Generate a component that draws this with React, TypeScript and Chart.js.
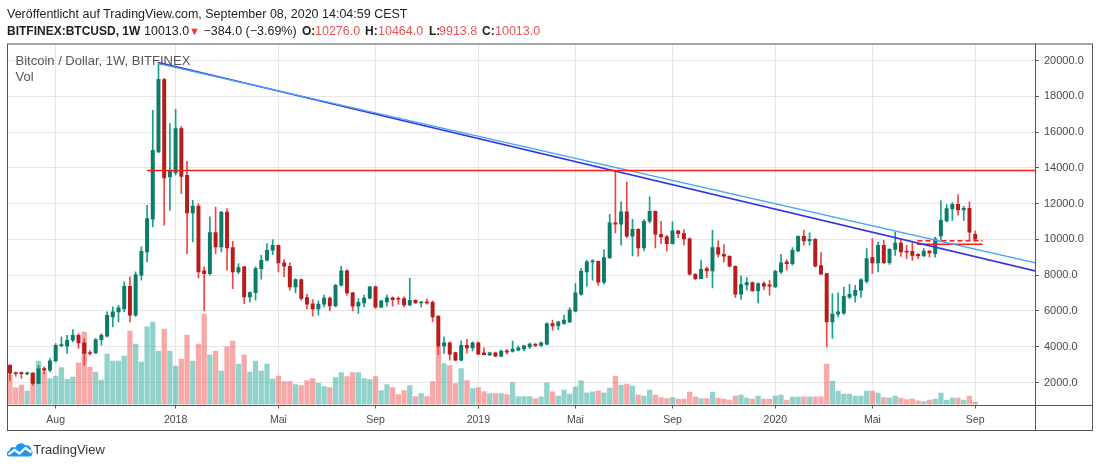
import React, { useEffect, useRef } from 'react';
import { Chart, registerables } from 'chart.js';

Chart.register(...registerables);

// Weekly BITFINEX:BTCUSD candles, bar 0 = week of 12 Jun 2017, bar 169 = week of 7 Sep 2020
const opens = [
  2960, 2530, 2550, 2480, 2530, 1950, 2780, 2690, 3210, 4060,
  4028, 4363, 4643, 4214, 3655, 3655, 4401, 4587, 5667, 5946,
  6114, 7380, 5760, 7995, 9298, 11124, 14885, 18927, 13489, 13712,
  16189, 13582, 11477, 11868, 8237, 8090, 10380, 9578, 11533, 9541,
  8181, 8460, 6784, 7027, 8367, 8833, 9393, 9673, 8686, 8500,
  7345, 7755, 6740, 6400, 6116, 6377, 6712, 6284, 7438, 8239,
  7010, 6265, 6451, 6712, 7345, 6209, 6507, 6730, 6693, 6693,
  6340, 6600, 6451, 6488, 6488, 5707, 4045, 4212, 3676, 3246,
  4084, 3935, 4212, 3660, 3547, 3658, 3472, 3770, 3733, 3807,
  3881, 3994, 4143, 4068, 4143, 5297, 5166, 5300, 5390, 5986,
  6917, 8183, 8742, 8779, 7606, 8984, 10920, 10846, 11535, 10175,
  10566, 9523, 11013, 11572, 10287, 10138, 9766, 10473, 10324, 10026,
  8053, 7810, 8369, 8239, 9542, 9170, 9058, 8499, 6935, 7457,
  7587, 7121, 7531, 7457, 7345, 8183, 8742, 8648, 9356, 10175,
  9933, 10008, 8537, 8090, 5390, 5818, 5880, 6775, 6869, 7148,
  7652, 8977, 8679, 9667, 8700, 9443, 9798, 9340, 9331, 9163,
  9070, 9350, 9200, 10200, 11030, 11700, 11962, 11650, 11740, 10276,
];
const highs = [
  3000, 2600, 2600, 2580, 2560, 2960, 2870, 3340, 4177, 4550,
  4643, 4959, 4736, 4456, 3780, 4456, 4736, 5946, 6225, 6319,
  7622, 7901, 8181, 9578, 11906, 17214, 19890, 19000, 16469, 17269,
  16320, 14364, 12185, 12000, 8460, 11254, 11812, 11570, 11719, 9894,
  8647, 8498, 7066, 8460, 9114, 9766, 9989, 9700, 8872, 8686,
  7792, 7780, 6935, 6638, 6563, 6880, 6786, 7494, 8500, 8313,
  7047, 6693, 6880, 7382, 7400, 6600, 6880, 6786, 6786, 6786,
  7829, 6637, 6525, 6675, 6563, 5720, 4548, 4273, 3700, 4324,
  4415, 4273, 4273, 3935, 3700, 3700, 3807, 3845, 4310, 4031,
  4087, 4217, 4180, 4273, 5340, 5483, 5400, 5762, 6190, 7531,
  8369, 8835, 8872, 8800, 9430, 11404, 13850, 12093, 13210, 11125,
  10600, 11106, 12372, 11600, 11013, 10231, 10976, 10510, 10548, 10082,
  8090, 8835, 8462, 10510, 9915, 9710, 9100, 8520, 7959, 7866,
  7624, 7568, 7624, 7717, 8276, 9170, 8872, 9542, 10200, 10510,
  10361, 10045, 9263, 8100, 6973, 7010, 7335, 7484, 7428, 7802,
  9481, 10041, 9854, 9947, 9480, 10414, 9985, 9667, 9854, 9200,
  9481, 9387, 10135, 12149, 11944, 12056, 12500, 11851, 12093, 10464,
];
const lows = [
  2100, 2360, 2225, 2420, 1830, 1930, 2500, 2590, 3150, 3990,
  3620, 4270, 3898, 2966, 3525, 3620, 4084, 4549, 5108, 5387,
  5946, 5387, 5700, 7716, 8740, 10695, 14850, 10800, 11626, 13600,
  12559, 9207, 9857, 7846, 6002, 8000, 9207, 9300, 8274, 7250,
  8090, 6412, 6505, 6598, 7773, 8797, 9150, 8183, 7903, 7159,
  7010, 6600, 6116, 5707, 5763, 6230, 6005, 6230, 7382, 6880,
  6005, 5856, 6228, 6675, 6135, 6190, 6265, 6265, 6358, 6230,
  6284, 6414, 6228, 6377, 5390, 3550, 3620, 3246, 3212, 3212,
  3658, 3770, 3547, 3547, 3500, 3440, 3435, 3584, 3700, 3770,
  3770, 3900, 4000, 4000, 4100, 4924, 4950, 5250, 5350, 5948,
  6880, 7382, 7717, 7438, 7494, 8928, 10361, 9672, 10082, 9077,
  9058, 9356, 10920, 9523, 9766, 9356, 9728, 10101, 9672, 7997,
  7755, 7800, 7866, 7289, 9021, 8742, 8462, 6749, 6638, 7159,
  7100, 6451, 7196, 6880, 7308, 8090, 8276, 8555, 9300, 9672,
  9672, 8462, 8040, 3993, 4459, 5669, 5800, 6682, 6495, 6775,
  7559, 8081, 8175, 8641, 8600, 9107, 9051, 8921, 8828, 8921,
  9051, 9000, 9000, 9950, 10974, 11067, 11347, 11067, 9950, 9913.8,
];
const closes = [
  2520, 2490, 2500, 2530, 1950, 2770, 2690, 3210, 4084, 4090,
  4363, 4643, 4214, 3620, 3620, 4401, 4643, 5760, 5946, 6170,
  7380, 5760, 8032, 9336, 11161, 14979, 18946, 13433, 13824, 16189,
  13526, 11477, 11868, 8181, 8090, 10380, 9578, 11533, 9522, 8181,
  8423, 6784, 7027, 8367, 8833, 9393, 9673, 8686, 8500, 7345,
  7755, 6693, 6377, 6116, 6377, 6712, 6284, 7438, 8239, 7010,
  6265, 6488, 6712, 7345, 6209, 6563, 6730, 6637, 6656, 6340,
  6600, 6451, 6488, 6451, 5669, 4028, 4212, 3581, 3246, 4084,
  3935, 4212, 3581, 3560, 3658, 3472, 3760, 3700, 3863, 3937,
  4050, 4143, 4068, 4217, 5297, 5166, 5390, 5483, 6042, 7010,
  8220, 8742, 8779, 7606, 8984, 10920, 10846, 11535, 10175, 10566,
  9523, 11013, 11572, 10287, 10138, 9766, 10473, 10324, 10026, 8053,
  7810, 8332, 8239, 9542, 9170, 9058, 8499, 6935, 7475, 7587,
  7121, 7531, 7382, 7382, 8220, 8686, 8648, 9393, 10175, 9915,
  10008, 8499, 8053, 5390, 5818, 5948, 6812, 6925, 7148, 7745,
  8921, 8679, 9667, 8700, 9443, 9798, 9294, 9290, 9107, 9070,
  9350, 9238, 10030, 11069, 11720, 11962, 11650, 11740, 10397, 10013,
];
// relative weekly volume
const volumes = [
  29.3, 16.7, 19.3, 13.3, 31, 43.3, 32.7, 26, 28.3, 37,
  25.3, 27.3, 41.7, 72.3, 37.3, 32.3, 24.3, 50.3, 43.3, 43.3,
  48.3, 73.3, 60.3, 42.3, 77.7, 82.3, 53.3, 75.3, 53.3, 38.3,
  45.3, 69.3, 43.3, 60.3, 90.3, 49.3, 53.3, 33.3, 57.7, 63.3,
  40.3, 49.3, 32.3, 43.3, 33.3, 40.3, 25.3, 28.3, 23, 23,
  20, 19, 24, 26, 21.3, 18, 17, 27, 32, 28,
  32, 32, 26, 25, 28, 14, 20, 17, 10, 14,
  19, 8, 11, 8, 23, 57.6, 41, 39, 21, 36,
  24, 16, 17, 13, 11, 11, 11, 10, 22, 8,
  8, 8, 6, 7.7, 21.7, 12.7, 8.3, 14.3, 10.3, 17.7,
  23.7, 11.7, 12.7, 13.7, 11.7, 16.3, 28.3, 19.3, 20.3, 18.3,
  9.3, 8.3, 14.3, 9.3, 7, 6, 7, 5.3, 5.3, 12.3,
  7.7, 6, 6, 12.3, 6.3, 5.3, 4.3, 8.3, 9.3, 6.3,
  5.3, 8.3, 5.3, 5.3, 8.3, 9.3, 4.3, 7.3, 7.3, 7.7,
  7.7, 7.7, 7.7, 40.3, 23.3, 13.5, 10.3, 10.3, 8.3, 8.3,
  13.3, 13.3, 11.3, 7, 6.3, 8.3, 6.3, 5, 5.7, 3.7,
  3, 4.3, 5.3, 11.3, 4.3, 6.3, 6.3, 4.3, 8.3, 2.3,
];

// time axis: bar index of the first weekly bar of each labelled month
const timeTickBars = [8, 29, 47, 64, 82, 99, 116, 134, 151, 169];
const timeTickLabels = ['Aug', '2018', 'Mai', 'Sep', '2019', 'Mai', 'Sep', '2020', 'Mai', 'Sep'];
const priceTicks = [2000, 4000, 6000, 8000, 10000, 12000, 14000, 16000, 18000, 20000];

// drawings (bar index, price)
const trendDark = [{ x: 26, y: 19890 }, { x: 179.5, y: 8235 }];
const trendLight = [{ x: 26, y: 19830 }, { x: 179.5, y: 8690 }];
const resistance = [{ x: 24, y: 13850 }, { x: 179.5, y: 13850 }];
const supportDashed = [{ x: 158.9, y: 9930 }, { x: 170.3, y: 9930 }];
const supportSolid = [{ x: 158.8, y: 9727 }, { x: 170.3, y: 9727 }];

const FONT = '"Liberation Sans", Arial, sans-serif';
const UP_BODY = '#0c7c69';
const UP_WICK = '#16a08a';
const DOWN_BODY = '#b71c1c';
const DOWN_WICK = '#ec4646';
const UP_VOL = 'rgba(38,166,154,0.5)';
const DOWN_VOL = 'rgba(239,83,80,0.5)';
const RED_TXT = '#ef5350';

const framePlugin = {
  id: 'frame',
  afterDraw(chart: any) {
    const { ctx, chartArea: a, scales } = chart;
    const right = a.right + scales.y.width;
    const bottom = a.bottom + scales.x.height;
    ctx.save();
    ctx.strokeStyle = '#555';
    ctx.lineWidth = 1;
    ctx.strokeRect(a.left + 0.5, a.top + 0.5, right - a.left - 1, bottom - a.top - 1);
    ctx.beginPath();
    ctx.moveTo(Math.round(a.right) + 0.5, a.top);
    ctx.lineTo(Math.round(a.right) + 0.5, bottom);
    ctx.moveTo(a.left, Math.round(a.bottom) + 0.5);
    ctx.lineTo(right, Math.round(a.bottom) + 0.5);
    ctx.stroke();
    ctx.restore();
  },
};

function App() {
  const ref = useRef<HTMLCanvasElement | null>(null);

  useEffect(() => {
    if (!ref.current) return;
    const up = closes.map((c, i) => c >= opens[i]);
    const lineDs = (data: any[], color: string, width: number, dash: number[] = []) => ({
      type: 'line' as const,
      data,
      borderColor: color,
      borderWidth: width,
      borderDash: dash,
      pointRadius: 0,
      fill: false,
      yAxisID: 'y',
      order: 1,
    });
    const chart = new Chart(ref.current, {
      type: 'bar',
      data: {
        datasets: [
          lineDs(resistance, '#ff1a1a', 1.3) as any,
          lineDs(trendLight, '#4aa8f2', 1.3) as any,
          lineDs(trendDark, '#3434e4', 1.6) as any,
          lineDs(supportDashed, '#ff1a1a', 1.5, [5, 3]) as any,
          lineDs(supportSolid, '#ff1a1a', 1.5) as any,
          {
            type: 'bar',
            data: opens.map((o, i) => ({ x: i, y: [Math.min(o, closes[i]), Math.max(o, closes[i])] })),
            backgroundColor: up.map((u) => (u ? UP_BODY : DOWN_BODY)),
            barThickness: 3.3,
            minBarLength: 1,
            grouped: false,
            yAxisID: 'y',
            order: 3,
          } as any,
          {
            type: 'bar',
            data: lows.map((l, i) => ({ x: i, y: [l, highs[i]] })),
            backgroundColor: up.map((u) => (u ? UP_WICK : DOWN_WICK)),
            barThickness: 1,
            grouped: false,
            yAxisID: 'y',
            order: 4,
          } as any,
          {
            type: 'bar',
            data: volumes.map((v, i) => ({ x: i, y: v })),
            backgroundColor: up.map((u) => (u ? UP_VOL : DOWN_VOL)),
            barThickness: 4.6,
            grouped: false,
            yAxisID: 'yv',
            order: 5,
          } as any,
        ],
      },
      options: {
        animation: false,
        responsive: true,
        maintainAspectRatio: false,
        layout: { padding: { left: 7, top: 43.5, right: 7, bottom: 37 } },
        plugins: { legend: { display: false }, tooltip: { enabled: false } },
        scales: {
          x: {
            type: 'linear',
            min: -0.525,
            max: 179.475,
            offset: false,
            grid: { offset: false, color: '#e6e6e6', tickLength: 4, tickColor: '#555' },
            border: { display: false },
            afterBuildTicks: (s: any) => {
              s.ticks = timeTickBars.map((v) => ({ value: v }));
            },
            afterFit: (s: any) => {
              s.height = 26.5;
            },
            ticks: {
              autoSkip: false,
              maxRotation: 0,
              padding: 5.5,
              color: '#4a4a4a',
              font: { family: FONT, size: 10.5 },
              callback: (_v: any, idx: number) => timeTickLabels[idx],
            },
          },
          y: {
            type: 'linear',
            position: 'right',
            min: 770,
            max: 20950,
            grid: { color: '#e6e6e6', tickLength: 4, tickColor: '#555' },
            border: { display: false },
            afterBuildTicks: (s: any) => {
              s.ticks = priceTicks.map((v) => ({ value: v }));
            },
            afterFit: (s: any) => {
              s.width = 58;
            },
            ticks: {
              padding: 5,
              color: '#4a4a4a',
              font: { family: FONT, size: 11 },
              callback: (v: any) => Number(v).toFixed(1),
            },
          },
          yv: { type: 'linear', display: false, min: 0, max: 361 },
        },
      } as any,
      plugins: [framePlugin],
    });
    return () => chart.destroy();
  }, []);

  const txt = (left: number, top: number, text: string, style: any = {}) => (
    <span style={{ position: 'absolute', left, top, whiteSpace: 'nowrap', lineHeight: '15px', ...style }}>{text}</span>
  );

  return (
    <div style={{ position: 'absolute', left: 0, top: 0, width: 1100, height: 468, background: '#fff', fontFamily: FONT, color: '#222' }}>
      <canvas ref={ref} />
      {txt(7, 6.5, 'Veröffentlicht auf TradingView.com, September 08, 2020 14:04:59 CEST', { fontSize: 12.5, color: '#1e1e1e' })}
      {txt(7, 23.5, 'BITFINEX:BTCUSD, 1W', { fontSize: 12, fontWeight: 'bold' })}
      {txt(144, 23.5, '10013.0', { fontSize: 12.5 })}
      {txt(189, 23.5, '▼', { fontSize: 11, color: '#e53935' })}
      {txt(203.5, 23.5, '−384.0 (−3.69%)', { fontSize: 12.5 })}
      {txt(302, 23.5, 'O:', { fontSize: 12, fontWeight: 'bold' })}
      {txt(315, 23.5, '10276.0', { fontSize: 12.5, color: RED_TXT })}
      {txt(365, 23.5, 'H:', { fontSize: 12, fontWeight: 'bold' })}
      {txt(378, 23.5, '10464.0', { fontSize: 12.5, color: RED_TXT })}
      {txt(429, 23.5, 'L:', { fontSize: 12, fontWeight: 'bold' })}
      {txt(439, 23.5, '9913.8', { fontSize: 12.5, color: RED_TXT })}
      {txt(482, 23.5, 'C:', { fontSize: 12, fontWeight: 'bold' })}
      {txt(495, 23.5, '10013.0', { fontSize: 12.5, color: RED_TXT })}
      {txt(15.5, 53, 'Bitcoin / Dollar, 1W, BITFINEX', { fontSize: 13, color: '#555' })}
      {txt(15.5, 69, 'Vol', { fontSize: 13, color: '#555' })}
      <svg style={{ position: 'absolute', left: 6, top: 441 }} width="27" height="16" viewBox="0 0 27 16">
        <path d="M3.5 15.5 C0 15.5 0 10 3.5 9.8 C3.5 6.5 7 5 9.2 6.8 C10.5 2 16.5 0.5 19.3 4.5 C22.5 3.5 25.5 6 25 9 C27.5 9.8 27 15.5 23.5 15.5 Z" fill="#2196f3" />
        <polyline points="2.5,13.5 8.5,8.8 13.5,12.5 19.5,7 25.5,11.5" stroke="#fff" strokeWidth="2.2" fill="none" strokeLinejoin="round" />
      </svg>
      {txt(33.3, 441.5, 'TradingView', { fontSize: 13, color: '#333' })}
    </div>
  );
}

export default App;
